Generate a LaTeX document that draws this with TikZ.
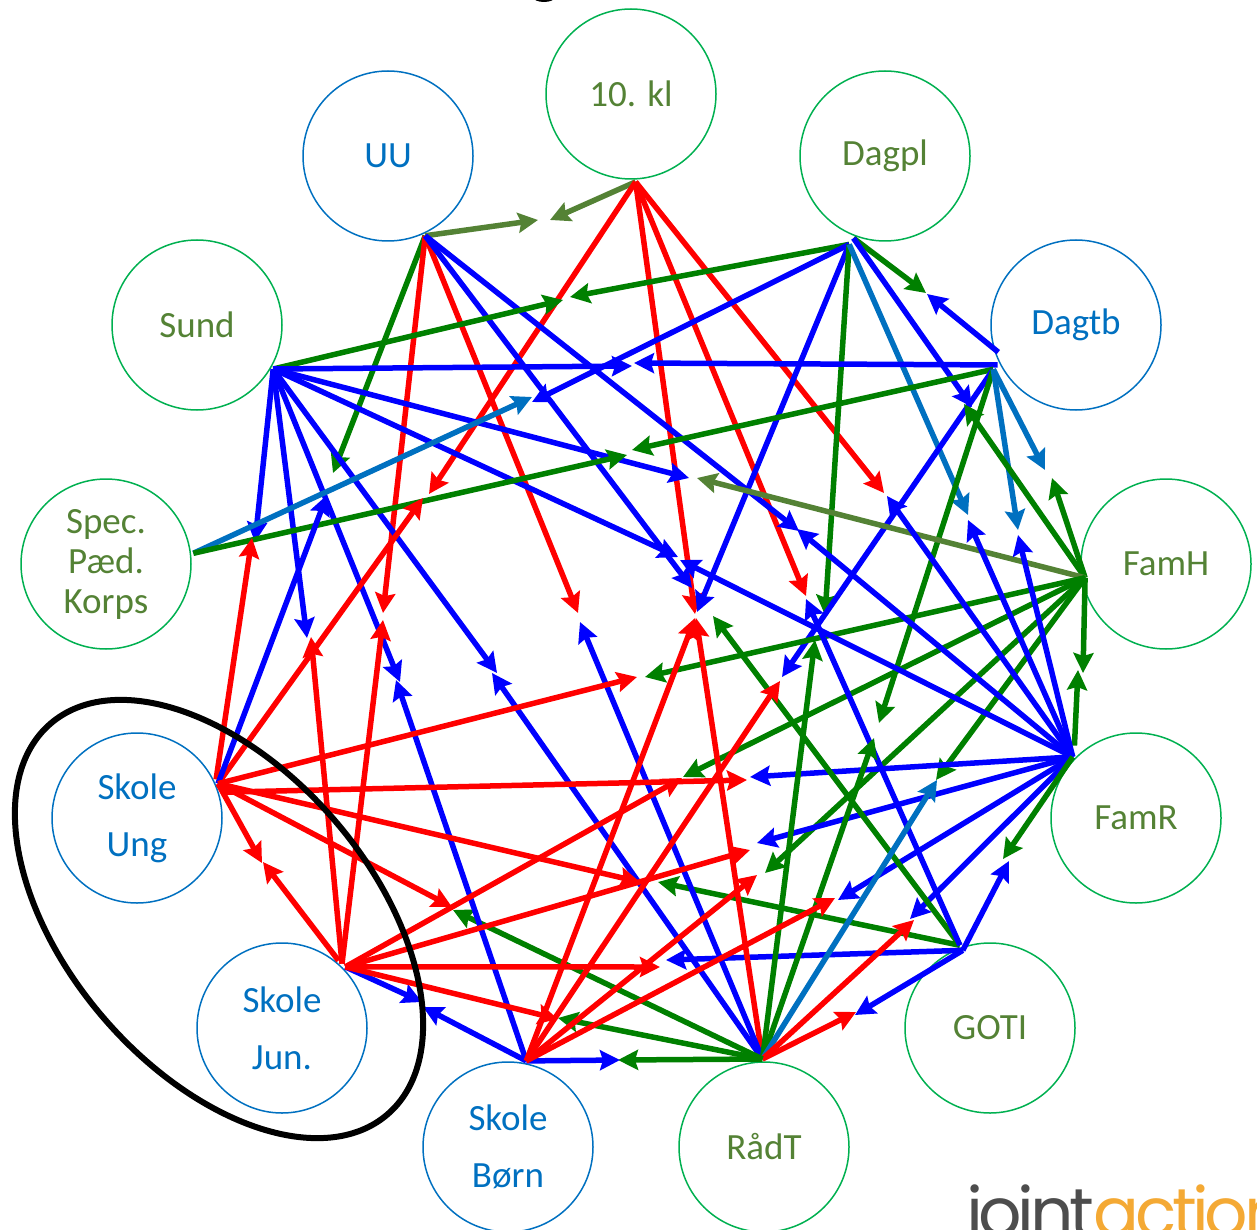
\documentclass[tikz,border=0pt]{standalone}
\usepackage{fontspec}
\setmainfont{Carlito}
\newfontfamily\logofont{Poppins}[LetterSpace=-6.5]
\usetikzlibrary{arrows.meta}
\definecolor{ringgreen}{HTML}{00B050}
\definecolor{steel}{HTML}{0070C0}
\definecolor{olive}{HTML}{548235}
\definecolor{logogrey}{HTML}{4D4D4D}
\definecolor{logoorange}{HTML}{F4A934}
\tikzset{
	ring/.style={draw,circle,minimum size=170pt,inner sep=0pt,outer sep=3pt,line width=1.5pt,align=center,font=\fontsize{37}{57}\selectfont},
	greenring/.style={ring,draw=ringgreen,text=olive},
	bluering/.style={ring,draw=steel,text=steel},
	redarr/.style={red,line width=5.5pt},
	bluearr/.style={blue,line width=5.5pt},
	greenarr/.style={green!50!black,line width=5.5pt},
	olivearr/.style={olive,line width=5.5pt},
	steelarr/.style={steel,line width=5.5pt},
}

\begin{document}
\begin{tikzpicture}[x=1pt,y=-1pt,->,>={Stealth[length=20pt,width=20pt,inset=3pt]}]
	\useasboundingbox (0,0) rectangle (1257,1230);
	\clip (0,0) rectangle (1257,1230);
	\fill (544,-3) ellipse (11pt and 5pt);
	\node[greenring] (kl) at (631,94) {10. kl};
	\node[bluering] (uu) at (388,156) {UU};
	\node[greenring] (dagpl) at (885,156) {Dagpl};
	\node[bluering] (dagtb) at (1076,325) {Dagtb};
	\node[greenring] (sund) at (197,325) {Sund};
	\node[greenring] (famh) at (1166,564) {FamH};
	\node[greenring,font=\fontsize{37}{40}\selectfont] (spec) at (106,564) {Spec.\\Pæd.\\Korps};
	\node[greenring] (famr) at (1136,818) {FamR};
	\node[bluering] (ung) at (137,818) {Skole\\Ung};
	\node[greenring] (goti) at (990,1028) {GOTI};
	\node[bluering] (jun) at (282,1028) {Skole\\Jun.};
	\node[greenring] (raadt) at (764,1147) {RådT};
	\node[bluering] (boern) at (508,1147) {Skole\\Børn};
	\node[anchor=base west,inner sep=0pt,font=\fontsize{68}{68}\selectfont\logofont] (logo) at (966,1236) {\textcolor{logogrey}{joint}\textcolor{logoorange}{action}};
	% where the hubs stand off the rings
	\coordinate (dagplw) at ([yshift=-8pt]dagpl.-114);
	\coordinate (dagtbn) at ([xshift=6pt]dagtb.-162);
	\coordinate (dagtbs) at ([shift={(-5pt,-3pt)}]dagtb.-152);
	\coordinate (famrn) at ([shift={(-5pt,5pt)}]famr.130);
	\coordinate (famhw) at ([xshift=6pt]famh.-171);
	\coordinate (gotis) at ([yshift=-6pt]goti.108);
	% arrow ends, named from-to
	\foreach \n/\x/\y in {
		kl-uu/550/220,uu-kl/538/220,kl-ung/429/494,ung-kl/423/498,kl-raadt/695/614,raadt-kl/696/618,
		kl-goti/806/596,goti-kl/806/599,kl-famr/884/493,famr-kl/887/496,uu-jun/383/613,jun-uu/383/620,
		uu-raadt/578/613,raadt-uu/580/622,uu-goti/692/588,goti-uu/713/616,uu-famr/799/531,famr-uu/797/529,
		uu-ung/333/473,ung-uu/327/495,sund-dagpl/563/300,dagpl-sund/570/297,sund-dagtb/632/366,dagtb-sund/634/363,
		sund-ung/255/542,ung-sund/252/538,sund-jun/307/638,jun-sund/311/637,sund-boern/400/682,boern-sund/396/680,
		sund-raadt/497/673,raadt-sund/492/673,sund-famh/689/478,famh-sund/697/478,sund-famr/678/557,famr-sund/680/560,
		spec-dagpl/532/397,dagpl-spec/532/402,spec-dagtb/627/455,dagtb-spec/632/450,dagpl-raadt/825/615,raadt-dagpl/815/640,
		dagpl-boern/697/612,boern-dagpl/695/618,dagpl-famr/968/515,famr-dagpl/968/520,dagpl-dagtb/926/293,dagtb-dagpl/927/294,
		dagpl-famh/972/407,famh-dagpl/964/404,dagtb-boern/782/677,boern-dagtb/780/681,dagtb-raadt/879/723,raadt-dagtb/874/738,
		dagtb-famr/1018/530,famr-dagtb/1018/535,dagtb-famh/1045/470,famh-dagtb/1052/478,famh-famr/1083/673,famr-famh/1078/670,
		famh-ung/645/677,ung-famh/637/677,famh-jun/683/777,jun-famh/682/778,famh-boern/765/873,boern-famh/757/875,
		famh-raadt/936/780,raadt-famh/937/780,famr-ung/750/777,ung-famr/747/780,famr-jun/757/843,jun-famr/750/850,
		famr-boern/838/900,boern-famr/835/898,famr-raadt/910/919,raadt-famr/914/920,famr-goti/1003/859,goti-famr/1009/861,
		goti-ung/658/882,ung-goti/640/882,goti-jun/666/960,jun-goti/660/967,goti-raadt/855/1015,raadt-goti/856/1012,
		raadt-ung/453/910,ung-raadt/452/907,raadt-jun/558/1018,jun-raadt/558/1019,raadt-boern/618/1060,boern-raadt/620/1060,
		boern-jun/423/1007,jun-boern/422/1002,ung-jun/262/863,jun-ung/263/862}
		\coordinate (\n) at (\x,\y);
	% 10. kl
	\draw[olivearr] (kl.-87) -- (kl-uu);
	\draw[redarr] (kl.-87) -- (kl-ung);
	\draw[redarr] (kl.-87) -- (kl-raadt);
	\draw[redarr] (kl.-87) -- (kl-goti);
	\draw[redarr] (kl.-87) -- (kl-famr);
	% UU
	\draw[olivearr] (uu.-65) -- (uu-kl);
	\draw[greenarr] (uu.-65) -- (uu-ung);
	\draw[redarr] (uu.-65) -- (uu-jun);
	\draw[redarr] (uu.-65) -- (uu-raadt);
	\draw[bluearr] (uu.-65) -- (uu-goti);
	\draw[bluearr] (uu.-65) -- (uu-famr);
	% Sund
	\draw[greenarr] (sund.-30) -- (sund-dagpl);
	\draw[bluearr] (sund.-30) -- (sund-dagtb);
	\draw[bluearr] (sund.-30) -- (sund-ung);
	\draw[bluearr] (sund.-30) -- (sund-jun);
	\draw[bluearr] (sund.-30) -- (sund-boern);
	\draw[bluearr] (sund.-30) -- (sund-raadt);
	\draw[bluearr] (sund.-30) -- (sund-famh);
	\draw[bluearr] (sund.-30) -- (sund-famr);
	% Spec
	\draw[steelarr] (spec.7) -- (spec-dagpl);
	\draw[greenarr] (spec.7) -- (spec-dagtb);
	% Dagpl
	\draw[greenarr] (dagplw) -- (dagpl-sund);
	\draw[bluearr] (dagplw) -- (dagpl-spec);
	\draw[bluearr] (dagplw) -- (dagpl-boern);
	\draw[greenarr] (dagplw) -- (dagpl-raadt);
	\draw[steelarr] (dagplw) -- (dagpl-famr);
	\draw[greenarr] (dagpl.-111) -- (dagpl-dagtb);
	\draw[bluearr] (dagpl.-111) -- (dagpl-famh);
	% Dagtb
	\draw[bluearr] (dagtbn) -- (dagtb-dagpl);
	\draw[bluearr] (dagtb.-153) -- (dagtb-sund);
	\draw[greenarr] (dagtbs) -- (dagtb-spec);
	\draw[bluearr] (dagtbs) -- (dagtb-boern);
	\draw[greenarr] (dagtbs) -- (dagtb-raadt);
	\draw[steelarr] (dagtbs) -- (dagtb-famr);
	\draw[steelarr] (dagtbs) -- (dagtb-famh);
	% FamH
	\draw[greenarr] (famhw) -- (famh-dagpl);
	\draw[greenarr] (famhw) -- (famh-dagtb);
	\draw[olivearr] (famhw) -- (famh-sund);
	\draw[greenarr] (famhw) -- (famh-famr);
	\draw[greenarr] (famhw) -- (famh-ung);
	\draw[greenarr] (famhw) -- (famh-jun);
	\draw[greenarr] (famhw) -- (famh-boern);
	\draw[greenarr] (famhw) -- (famh-raadt);
	% FamR
	\draw[greenarr] (famrn) -- (famr-famh);
	\draw[bluearr] (famr.136) -- (famr-dagtb);
	\draw[bluearr] (famr.136) -- (famr-dagpl);
	\draw[bluearr] (famr.136) -- (famr-kl);
	\draw[bluearr] (famr.136) -- (famr-uu);
	\draw[bluearr] (famr.136) -- (famr-sund);
	\draw[bluearr] (famr.136) -- (famr-ung);
	\draw[bluearr] (famr.136) -- (famr-jun);
	\draw[bluearr] (famr.136) -- (famr-boern);
	\draw[bluearr] (famr.136) -- (famr-raadt);
	\draw[greenarr] (famr.136) -- (famr-goti);
	% GOTI
	\draw[greenarr] (goti.110) -- (goti-uu);
	\draw[greenarr] (goti.110) -- (goti-ung);
	\draw[bluearr] (goti.110) -- (goti-kl);
	\draw[bluearr] (gotis) -- (goti-jun);
	\draw[bluearr] (gotis) -- (goti-famr);
	\draw[bluearr] (gotis) -- (goti-raadt);
	% RådT
	\draw[redarr] (raadt.91) -- (raadt-kl);
	\draw[bluearr] (raadt.91) -- (raadt-uu);
	\draw[bluearr] (raadt.91) -- (raadt-sund);
	\draw[greenarr] (raadt.91) -- (raadt-dagpl);
	\draw[greenarr] (raadt.91) -- (raadt-dagtb);
	\draw[steelarr] (raadt.91) -- (raadt-famh);
	\draw[redarr] (raadt.91) -- (raadt-famr);
	\draw[redarr] (raadt.91) -- (raadt-goti);
	\draw[greenarr] (raadt.91) -- (raadt-ung);
	\draw[greenarr] (raadt.91) -- (raadt-jun);
	\draw[greenarr] (raadt.91) -- (raadt-boern);
	% Skole Børn
	\draw[bluearr] (boern.78) -- (boern-raadt);
	\draw[bluearr] (boern.78) -- (boern-jun);
	\draw[bluearr] (boern.78) -- (boern-sund);
	\draw[redarr] (boern.78) -- (boern-dagpl);
	\draw[redarr] (boern.78) -- (boern-dagtb);
	\draw[redarr] (boern.78) -- (boern-famh);
	\draw[redarr] (boern.78) -- (boern-famr);
	% Skole Jun.
	\draw[bluearr] (jun.44) -- (jun-boern);
	\draw[redarr] (jun.50) -- (jun-ung);
	\draw[redarr] (jun.47) -- (jun-sund);
	\draw[redarr] (jun.47) -- (jun-uu);
	\draw[redarr] (jun.44) -- (jun-goti);
	\draw[redarr] (jun.44) -- (jun-famr);
	\draw[redarr] (jun.44) -- (jun-famh);
	\draw[redarr] (jun.44) -- (jun-raadt);
	% Skole Ung
	\draw[redarr] (ung.23) -- (ung-kl);
	\draw[redarr] (ung.26) -- (ung-sund);
	\draw[bluearr] (ung.23) -- (ung-uu);
	\draw[redarr] (ung.23) -- (ung-famh);
	\draw[redarr] (ung.17) -- (ung-famr);
	\draw[redarr] (ung.23) -- (ung-goti);
	\draw[redarr] (ung.23) -- (ung-raadt);
	\draw[redarr] (ung.23) -- (ung-jun);
	% ring round the two schools
	\draw[black,line width=6pt] (219,919) circle [x radius=258pt,y radius=152pt,rotate=-49.2];
\end{tikzpicture}
\end{document}
